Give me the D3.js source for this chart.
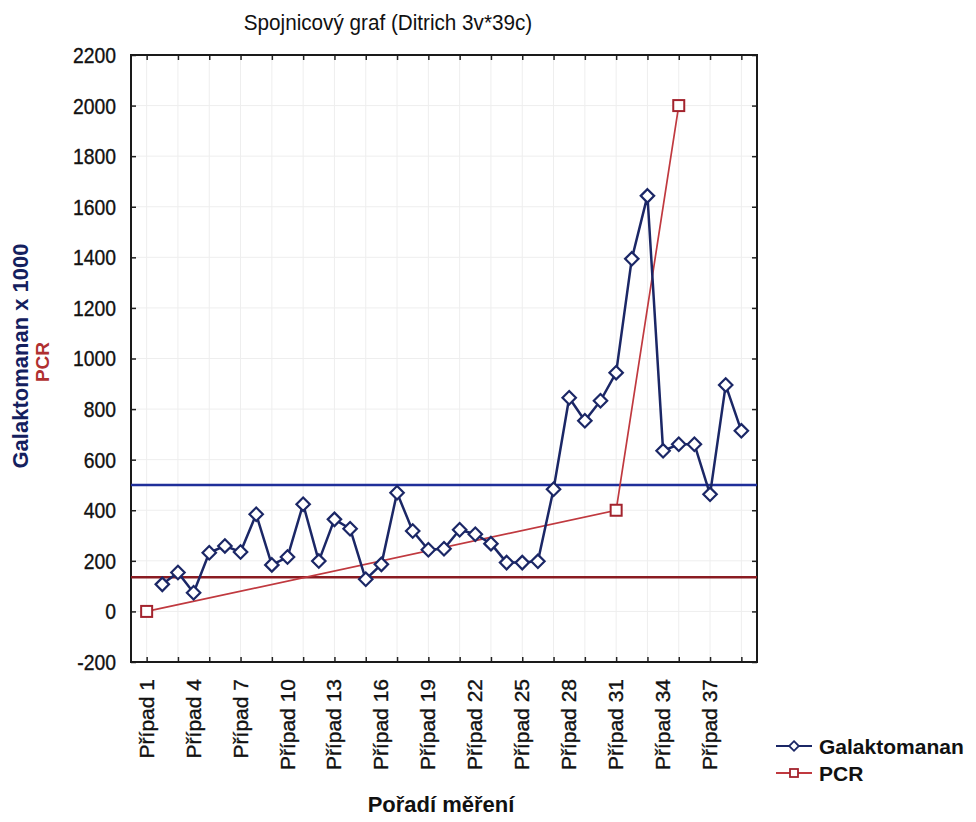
<!DOCTYPE html>
<html>
<head>
<meta charset="utf-8">
<script src="https://cdn.jsdelivr.net/npm/d3@7"></script>
<style>
  html, body { margin: 0; padding: 0; background: #ffffff; }
  svg { display: block; }
  text { font-family: "Liberation Sans", Arial, sans-serif; }
</style>
</head>
<body>
<svg id="chart" width="976" height="822"></svg>
<script>
// Case numbers along the x axis (Případ 1 … Případ 39)
const cases = d3.range(1, 40);
// Galaktomanan index × 1000 per case (case 1 has no measurement)
const galaktomanan = [null, 107, 154, 74, 232, 259, 235, 384, 184, 215, 424,
  199, 364, 327, 127, 186, 469, 318, 244, 248, 323,
  305, 268, 193, 193, 198, 483, 845, 754, 833, 944,
  1394, 1643, 635, 661, 661, 463, 895, 714];
// PCR results, measured only for a few cases
const pcrCases = [1, 31, 35];
const pcrValues = [0, 400, 2000];
// Cut-off levels drawn as horizontal reference lines
const cutoffGalaktomanan = 500;
const cutoffPCR = 135;
// Axis ticks
const yTicks = d3.range(-200, 2201, 200);
const xTickCases = d3.range(1, 40, 2);
const xLabelCases = d3.range(1, 40, 3);

const svg = d3.select("#chart");
const plot = { left: 131, right: 757, top: 55, bottom: 662 };

const x = d3.scaleLinear().domain([0, 40]).range([plot.left, plot.right]);
const y = d3.scaleLinear().domain([-200, 2200]).range([plot.bottom, plot.top]);

const navy = "#1b2766";
const pcrRed = "#c0393f";

// squeeze text horizontally to the narrow face used in the chart
function condense(sel, factor) {
  sel.each(function () {
    const len = this.getComputedTextLength();
    d3.select(this).attr("textLength", len * factor).attr("lengthAdjust", "spacingAndGlyphs");
  });
}

// faint grid
const grid = svg.append("g").attr("stroke", "#eeeeee").attr("stroke-width", 1);
grid.selectAll("line.v").data(xTickCases).join("line").attr("class", "v")
  .attr("x1", d => x(d)).attr("x2", d => x(d))
  .attr("y1", plot.top).attr("y2", plot.bottom);
grid.selectAll("line.h").data(yTicks).join("line").attr("class", "h")
  .attr("x1", plot.left).attr("x2", plot.right)
  .attr("y1", d => y(d)).attr("y2", d => y(d));

// axes with inward ticks on all four sides
const axisLeft = svg.append("g").attr("transform", `translate(${plot.left},0)`)
  .call(d3.axisRight(y).tickValues(yTicks).tickSize(5).tickFormat(""));
const axisRight = svg.append("g").attr("transform", `translate(${plot.right},0)`)
  .call(d3.axisLeft(y).tickValues(yTicks).tickSize(5).tickFormat(""));
const axisBottom = svg.append("g").attr("transform", `translate(0,${plot.bottom})`)
  .call(d3.axisTop(x).tickValues(xTickCases).tickSize(5).tickFormat(""));
const axisTop = svg.append("g").attr("transform", `translate(0,${plot.top})`)
  .call(d3.axisBottom(x).tickValues(xTickCases).tickSize(5).tickFormat(""));
[axisLeft, axisRight, axisBottom, axisTop].forEach(a => {
  a.select(".domain").remove();
  a.selectAll(".tick line").attr("stroke", "#222").attr("stroke-width", 1.5);
});

// frame
svg.append("rect")
  .attr("x", plot.left).attr("y", plot.top)
  .attr("width", plot.right - plot.left).attr("height", plot.bottom - plot.top)
  .attr("fill", "none").attr("stroke", "#1a1a1a").attr("stroke-width", 2);

// y tick labels
svg.append("g").selectAll("text").data(yTicks).join("text")
  .attr("x", 116).attr("y", d => y(d)).attr("dy", "0.36em")
  .attr("text-anchor", "end").attr("font-size", 22).attr("fill", "#111")
  .attr("stroke", "#111").attr("stroke-width", 0.35)
  .text(d => d)
  .call(condense, 0.88);

// x tick labels, rotated
svg.append("g").selectAll("text").data(xLabelCases).join("text")
  .attr("transform", d => `translate(${x(d) + 7},679) rotate(-90)`)
  .attr("text-anchor", "end").attr("font-size", 21).attr("fill", "#111")
  .attr("stroke", "#111").attr("stroke-width", 0.35)
  .text(d => "Případ " + d);

// reference lines
svg.append("line")
  .attr("x1", plot.left).attr("x2", plot.right)
  .attr("y1", y(cutoffGalaktomanan)).attr("y2", y(cutoffGalaktomanan))
  .attr("stroke", "#1f2f9a").attr("stroke-width", 2.4);
svg.append("line")
  .attr("x1", plot.left).attr("x2", plot.right)
  .attr("y1", y(cutoffPCR)).attr("y2", y(cutoffPCR))
  .attr("stroke", "#8a1c22").attr("stroke-width", 2.4);

// PCR series
const pcrData = pcrCases.map((c, i) => ({ c, v: pcrValues[i] }));
svg.append("path").datum(pcrData)
  .attr("fill", "none").attr("stroke", pcrRed).attr("stroke-width", 1.7)
  .attr("d", d3.line().x(d => x(d.c)).y(d => y(d.v)));

// Galaktomanan series
const galData = cases.map((c, i) => ({ c, v: galaktomanan[i] })).filter(d => d.v !== null);
svg.append("path").datum(galData)
  .attr("fill", "none").attr("stroke", navy).attr("stroke-width", 2.5)
  .attr("stroke-linejoin", "round")
  .attr("d", d3.line().x(d => x(d.c)).y(d => y(d.v)));

const diamond = d3.symbol().type(d3.symbolDiamond2).size(115);
svg.append("g").selectAll("path").data(galData).join("path")
  .attr("transform", d => `translate(${x(d.c)},${y(d.v)})`)
  .attr("d", diamond)
  .attr("fill", "#fff").attr("stroke", navy).attr("stroke-width", 2.2);

svg.append("g").selectAll("rect").data(pcrData).join("rect")
  .attr("x", d => x(d.c) - 5.5).attr("y", d => y(d.v) - 5.5)
  .attr("width", 11).attr("height", 11)
  .attr("fill", "#fff").attr("stroke", "#a3232d").attr("stroke-width", 2);

// title
svg.append("text")
  .attr("x", 388).attr("y", 30).attr("text-anchor", "middle")
  .attr("font-size", 22).attr("fill", "#111")
  .text("Spojnicový graf (Ditrich 3v*39c)")
  .call(condense, 0.94);

// axis titles
svg.append("text")
  .attr("transform", "translate(28,356) rotate(-90)")
  .attr("text-anchor", "middle").attr("font-size", 22).attr("font-weight", "bold")
  .attr("fill", "#14205e")
  .text("Galaktomanan x 1000");
svg.append("text")
  .attr("transform", "translate(49,362) rotate(-90)")
  .attr("text-anchor", "middle").attr("font-size", 19).attr("font-weight", "bold")
  .attr("fill", "#b03030")
  .text("PCR");
svg.append("text")
  .attr("x", 441).attr("y", 812).attr("text-anchor", "middle")
  .attr("font-size", 22).attr("font-weight", "bold").attr("fill", "#111")
  .text("Pořadí měření");

// legend
const legend = svg.append("g");
const legendRows = [
  { name: "Galaktomanan", color: navy, mark: "diamond", y: 746 },
  { name: "PCR", color: pcrRed, mark: "square", y: 773 }
];
legendRows.forEach(r => {
  legend.append("line").attr("x1", 776).attr("x2", 812).attr("y1", r.y).attr("y2", r.y)
    .attr("stroke", r.color).attr("stroke-width", 2);
  if (r.mark === "diamond") {
    legend.append("path").attr("transform", `translate(794,${r.y})`)
      .attr("d", d3.symbol().type(d3.symbolDiamond2).size(60))
      .attr("fill", "#fff").attr("stroke", navy).attr("stroke-width", 1.8);
  } else {
    legend.append("rect").attr("x", 790).attr("y", r.y - 4).attr("width", 8).attr("height", 8)
      .attr("fill", "#fff").attr("stroke", "#a3232d").attr("stroke-width", 1.8);
  }
  legend.append("text").attr("x", 819).attr("y", r.y).attr("dy", "0.36em")
    .attr("font-size", 21).attr("font-weight", "bold").attr("fill", "#111")
    .text(r.name);
});
</script>
</body>
</html>
